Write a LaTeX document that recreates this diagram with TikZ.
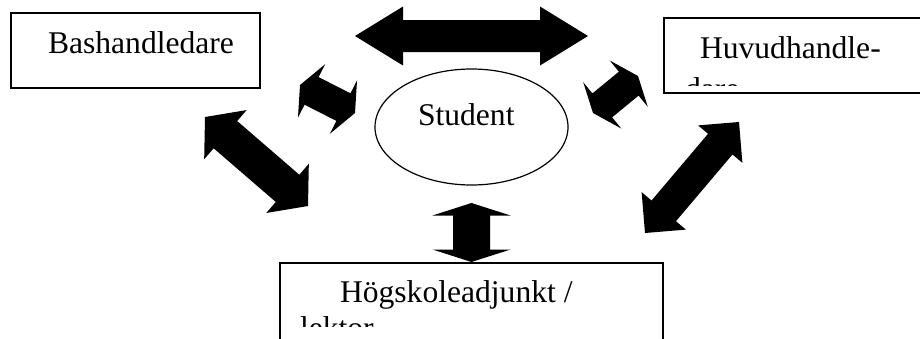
\documentclass[tikz,border=0pt]{standalone}
\usepackage{fontspec}
\setmainfont{Liberation Serif}
\usetikzlibrary{calc,shapes.geometric}

% Filled double-headed block arrow between two named tips.
% #1,#2: tips; #3: head length; #4: head half-width; #5: shaft half-width
\newcommand\dblblock[5]{%
  \coordinate (#1-b) at ($(#1)!#3!(#2)$);
  \coordinate (#2-b) at ($(#2)!#3!(#1)$);
  \fill[blockarrow] (#1)
    -- ($(#1-b)!#4!90:(#2)$) -- ($(#1-b)!#5!90:(#2)$)
    -- ($(#2-b)!#5!-90:(#1)$) -- ($(#2-b)!#4!-90:(#1)$)
    -- (#2)
    -- ($(#2-b)!#4!90:(#1)$) -- ($(#2-b)!#5!90:(#1)$)
    -- ($(#1-b)!#5!-90:(#2)$) -- ($(#1-b)!#4!-90:(#2)$) -- cycle;
}

\tikzset{
  box/.style={draw=black, line width=1.7pt},
  blockarrow/.style={fill=black},
  txt/.style={anchor=base west, inner sep=0pt, outer sep=0pt,
    font=\fontsize{31.6}{38}\selectfont},
}

\begin{document}
\begin{tikzpicture}[x=1pt, y=-1pt]
  \useasboundingbox (0,0) rectangle (920,338);
  \clip (0,0) rectangle (920,338);
  \fill[white] (0,0) rectangle (920,338);

  % boxes
  \draw[box] (11,13) rectangle (260,88);
  \node[txt] (bas) at (48,53.3) {Bashandledare};

  \draw[box] (664,18) rectangle (940,93);
  \node[txt] (huv) at (700,58.3) {Huvudhandle-};
  \begin{scope}
    \clip (664,18) rectangle (940,85);
    \node[txt] (huv2) at (685,99.6) {dare};
  \end{scope}

  \draw[box] (280,263) rectangle (663,360);
  \node[txt] (hog) at (340,302) {Högskoleadjunkt /};
  \begin{scope}
    \clip (280,263) rectangle (663,326);
    \node[txt] (hog2) at (300,338.6) {lektor};
  \end{scope}

  % student ellipse
  \node[ellipse, draw=black, line width=1.2pt, minimum width=193pt,
        minimum height=116pt, inner sep=0pt] (stu) at (471.5,127) {};
  \node[txt] (stutxt) at (418,125) {Student};

  % arrow end points
  \coordinate (ta1) at (355,36);
  \coordinate (ta2) at (588,36);
  \coordinate (sa1) at (300,85);
  \coordinate (sa2) at (355,113);
  \coordinate (sb1) at (593,113);
  \coordinate (sb2) at (638,76);
  \coordinate (ba1) at (205,117);
  \coordinate (ba2) at (308,206);
  \coordinate (bb1) at (645,233);
  \coordinate (bb2) at (739,122);
  \coordinate (va1) at (471.5,203);
  \coordinate (va2) at (471.5,262);

  % block arrows
  \dblblock{ta1}{ta2}{48pt}{29.5pt}{16pt}
  \dblblock{sa1}{sa2}{13pt}{30pt}{15.5pt}
  \dblblock{sb1}{sb2}{12pt}{30pt}{15.5pt}
  \dblblock{ba1}{ba2}{27pt}{32.5pt}{18pt}
  \dblblock{bb1}{bb2}{29pt}{29pt}{16pt}
  \dblblock{va1}{va2}{12.5pt}{39pt}{18.5pt}
\end{tikzpicture}
\end{document}
